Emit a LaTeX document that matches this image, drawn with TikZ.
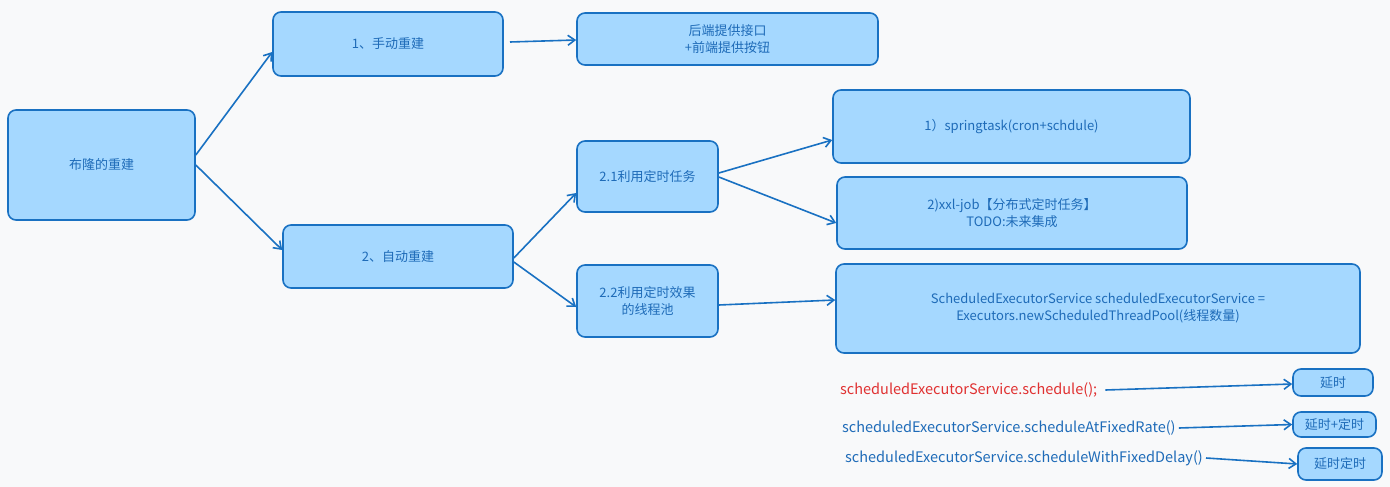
\documentclass[tikz,border=0pt]{standalone}
\usepackage{fontspec}
\setmainfont{Noto Sans CJK SC}
\usetikzlibrary{arrows.meta}
\definecolor{bfill}{HTML}{A5D8FF}
\definecolor{bline}{HTML}{1971C2}
\definecolor{btext}{HTML}{1E6BB8}
\definecolor{rtext}{HTML}{E03131}
\definecolor{bg}{HTML}{F8F9FA}
\begin{document}
\begin{tikzpicture}[x=1pt,y=-1pt,
  box/.style={draw=bline,fill=bfill,line width=1.6pt,rounded corners=8pt,text=btext,font=\fontsize{13}{17}\selectfont,align=center},
  conn/.style={draw=bline,line width=1.6pt,-{Straight Barb[length=7pt,width=10pt]}},
  code/.style={font=\fontsize{14.5}{17}\selectfont,anchor=west,inner sep=0pt}]
\fill[bg] (0,0) rectangle (1390,487);
\useasboundingbox (0,0) rectangle (1390,487);
\newcommand\bx[6]{\node[box,minimum width=#4-#2,minimum height=#5-#3] (#1) at ({(#2+#4)/2},{(#3+#5)/2}) {#6};}
\bx{A}{8}{110}{195}{220}{布隆的重建}
\bx{B}{273}{12}{503}{76}{1、手动重建}
\bx{C}{577}{13}{878}{65}{后端提供接口\\+前端提供按钮}
\bx{D}{283}{225}{513}{288}{2、自动重建}
\bx{E}{577}{141}{718}{212}{2.1利用定时任务}
\bx{F}{577}{265}{718}{337}{2.2利用定时效果\\的线程池}
\bx{G}{833}{90}{1190}{163}{1）springtask(cron+schdule)}
\bx{H}{837}{177}{1187}{249}{2)xxl-job【分布式定时任务】\\TODO:未来集成}
\bx{I}{836}{264}{1360}{353}{ScheduledExecutorService scheduledExecutorService =\\Executors.newScheduledThreadPool(线程数量)}
\bx{J}{1293}{369}{1373}{396}{延时}
\bx{K}{1293}{412}{1376}{437}{延时+定时}
\bx{L}{1298}{448}{1382}{480}{延时定时}
\node[code,text=rtext] (t1) at (840,390) {scheduledExecutorService.schedule();};
\node[code,text=btext] (t2) at (842,428) {scheduledExecutorService.scheduleAtFixedRate()};
\node[code,text=btext] (t3) at (845,458) {scheduledExecutorService.scheduleWithFixedDelay()};
\draw[conn] (A.east|-0,155) -- (B.west|-0,52);
\draw[conn] (A.east|-0,165) -- (D.west|-0,250);
\draw[conn] (510,42) -- (C.west|-0,40);
\draw[conn] (D.east|-0,258) -- (E.west|-0,193);
\draw[conn] (D.east|-0,262) -- (F.west|-0,307);
\draw[conn] (E.east|-0,173) -- (G.west|-0,140);
\draw[conn] (E.east|-0,177) -- (H.west|-0,223);
\draw[conn] (F.east|-0,305) -- (I.west|-0,300);
\draw[conn] ([xshift=8pt]t1.east) -- (J.west|-0,384);
\draw[conn] ([xshift=3pt]t2.east) -- (K.west);
\draw[conn] ([xshift=3pt]t3.east) -- (L.west);
\end{tikzpicture}
\end{document}
